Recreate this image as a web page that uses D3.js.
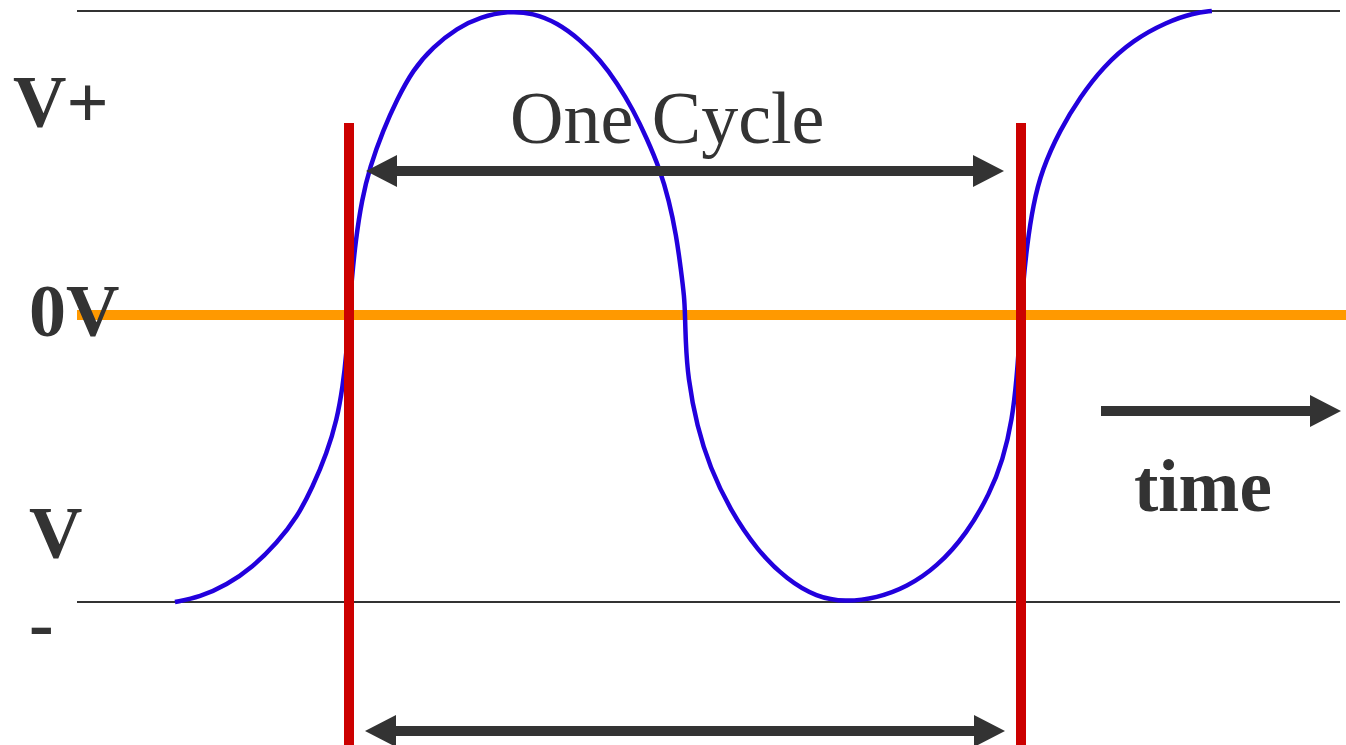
<!DOCTYPE html>
<html>
<head>
<meta charset="utf-8">
<script src="https://cdn.jsdelivr.net/npm/d3@7"></script>
<style>
    body { margin: 0; background: #fff; }
    svg { display: block; }
</style>
</head>
<body>
<div id="chart"></div>
<script>
// data (time in cycles, voltage normalised to the rails)
let waveTime = [-0.259, -0.222, -0.182, -0.143, -0.107, -0.077, -0.054, -0.033, -0.018, -0.009, -0.004, 0,
    0.004, 0.010, 0.019, 0.031, 0.051, 0.071, 0.095, 0.125, 0.161, 0.195, 0.237,
    0.274, 0.310, 0.344, 0.374, 0.399, 0.423, 0.443, 0.463, 0.476, 0.487, 0.494, 0.499, 0.500,
    0.501, 0.504, 0.518, 0.537, 0.567, 0.607, 0.652, 0.696, 0.738, 0.786, 0.830, 0.875, 0.920, 0.954, 0.973, 0.987, 0.994, 0.997, 1.0,
    1.003, 1.009, 1.018, 1.031, 1.058, 1.088, 1.122, 1.167, 1.217, 1.256, 1.284];
let waveVolts = [-1.0, -0.983, -0.941, -0.878, -0.794, -0.704, -0.599, -0.481, -0.366, -0.244, -0.139, 0,
    0.115, 0.247, 0.378, 0.487, 0.609, 0.707, 0.806, 0.882, 0.944, 0.980, 1.0,
    0.993, 0.961, 0.905, 0.839, 0.763, 0.674, 0.582, 0.477, 0.378, 0.263, 0.148, 0.059, 0,
    -0.087, -0.216, -0.390, -0.530, -0.679, -0.819, -0.923, -0.983, -1.0, -0.986, -0.948, -0.878, -0.760, -0.620, -0.505, -0.366, -0.209, -0.105, 0,
    0.099, 0.230, 0.362, 0.477, 0.609, 0.717, 0.816, 0.905, 0.964, 0.993, 1.0];

let railLevels = [1, -1];      // V+ and V- rails
let zeroLevel = 0;             // 0V reference
let cycleMarks = [0, 1];       // start and end of one cycle
let levelLabels = ['V+', '0V', 'V', '-'];
let cycleLabel = 'One Cycle';
let timeLabel = 'time';

// svg size
let svgWidth = 1346;
let svgHeight = 745;

let svg = d3.select('#chart')
    .append('svg')
    .attr('width', svgWidth)
    .attr('height', svgHeight);

// scales
let xScale = d3.scaleLinear()
    .domain([0, 1])
    .range([349, 1021]);

let yScale = d3.scaleLinear()
    .domain([-1, 0, 1])
    .range([602, 315, 11]);

let dark = '#333333';

// rails
svg.selectAll('.rail')
    .data(railLevels)
    .enter()
    .append('line')
    .classed('rail', true)
    .attr('x1', 77)
    .attr('x2', 1340)
    .attr('y1', d => yScale(d))
    .attr('y2', d => yScale(d))
    .attr('stroke', dark)
    .attr('stroke-width', 2);

// 0V line
svg.append('line')
    .attr('x1', 77)
    .attr('x2', svgWidth)
    .attr('y1', yScale(zeroLevel))
    .attr('y2', yScale(zeroLevel))
    .attr('stroke', '#ff9900')
    .attr('stroke-width', 10);

// the wave
let waveData = waveTime.map((t, i) => ({ t: t, v: waveVolts[i] }));

let waveLine = d3.line()
    .x(d => xScale(d.t))
    .y(d => yScale(d.v))
    .curve(d3.curveBasis);

svg.append('path')
    .datum(waveData)
    .attr('d', waveLine)
    .attr('fill', 'none')
    .attr('stroke', '#2200dd')
    .attr('stroke-width', 4.5);

// red cycle markers
svg.selectAll('.mark')
    .data(cycleMarks)
    .enter()
    .append('line')
    .classed('mark', true)
    .attr('x1', d => xScale(d))
    .attr('x2', d => xScale(d))
    .attr('y1', 123)
    .attr('y2', svgHeight)
    .attr('stroke', '#cc0000')
    .attr('stroke-width', 10);

// arrow polygon, heads at one or both ends
function arrow(x1, x2, y, both) {
    let h = 5, hl = 31, hw = 16;
    let pts = [];
    if (both) {
        pts.push([x1, y], [x1 + hl, y - hw], [x1 + hl, y - h]);
    } else {
        pts.push([x1, y - h]);
    }
    pts.push([x2 - hl, y - h], [x2 - hl, y - hw], [x2, y], [x2 - hl, y + hw], [x2 - hl, y + h]);
    if (both) {
        pts.push([x1 + hl, y + h], [x1 + hl, y + hw]);
    } else {
        pts.push([x1, y + h]);
    }
    svg.append('polygon')
        .attr('points', pts.map(p => p.join(',')).join(' '))
        .attr('fill', dark);
}

arrow(xScale(cycleMarks[0]) + 17, xScale(cycleMarks[1]) - 17, 171, true);
arrow(xScale(cycleMarks[0]) + 16, xScale(cycleMarks[1]) - 16, 731, true);
arrow(1101, 1341, 411, false);

// text
svg.append('text')
    .attr('x', 510)
    .attr('y', 143)
    .attr('font-family', 'Liberation Serif')
    .attr('font-size', 74)
    .attr('fill', dark)
    .text(cycleLabel);

svg.append('text')
    .attr('x', 1134)
    .attr('y', 511)
    .attr('font-family', 'Liberation Serif')
    .attr('font-weight', 'bold')
    .attr('font-size', 73)
    .attr('fill', dark)
    .text(timeLabel);

let labelPos = [[13, 127], [29, 336], [29, 558], [29, 648]];

svg.selectAll('.level')
    .data(levelLabels)
    .enter()
    .append('text')
    .classed('level', true)
    .attr('x', (d, i) => labelPos[i][0])
    .attr('y', (d, i) => labelPos[i][1])
    .attr('font-family', 'Liberation Serif')
    .attr('font-weight', 'bold')
    .attr('font-size', 74)
    .attr('fill', dark)
    .text(d => d);
</script>
</body>
</html>
